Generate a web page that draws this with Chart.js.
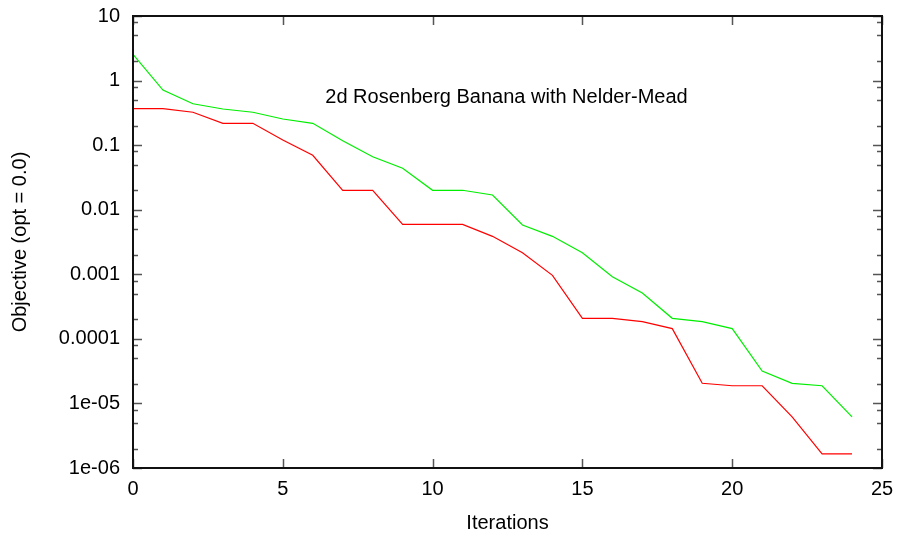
<!DOCTYPE html>
<html>
<head>
<meta charset="utf-8">
<script src="https://cdn.jsdelivr.net/npm/chart.js@4/dist/chart.umd.min.js"></script>
<style>
  html, body { margin: 0; padding: 0; background: #ffffff; }
  #wrap { width: 899px; height: 542px; }
</style>
</head>
<body>
<div id="wrap"><canvas id="c" width="899" height="542"></canvas></div>
<script>
// ---- data ----
const iterations = [0,1,2,3,4,5,6,7,8,9,10,11,12,13,14,15,16,17,18,19,20,21,22,23,24];
const greenObjective = [2.55, 0.714, 0.438, 0.363, 0.323, 0.254, 0.218, 0.117, 0.0662, 0.0438,
  0.0200, 0.0200, 0.0169, 0.0058, 0.00387, 0.00216, 0.000918, 0.000513, 0.000208, 0.000185,
  0.000144, 3.18e-5, 2.05e-5, 1.88e-5, 6.2e-6];
const redObjective = [0.367, 0.367, 0.323, 0.218, 0.218, 0.120, 0.0696, 0.0200, 0.0200, 0.00594,
  0.00594, 0.00594, 0.00387, 0.00216, 0.000964, 0.000208, 0.000208, 0.000185, 0.000144, 2.05e-5,
  1.88e-5, 1.88e-5, 6.2e-6, 1.65e-6, 1.65e-6];
const xTickValues = [0, 5, 10, 15, 20, 25];
const xTickLabels = ['0', '5', '10', '15', '20', '25'];
const yTickValues = [1e-6, 1e-5, 1e-4, 1e-3, 1e-2, 1e-1, 1, 10];
const yTickLabels = ['1e-06', '1e-05', '0.0001', '0.001', '0.01', '0.1', '1', '10'];
const yMinorMultipliers = [2, 5, 8];
const chartTitle = '2d Rosenberg Banana with Nelder-Mead';
const xAxisTitle = 'Iterations';
const yAxisTitle = 'Objective (opt = 0.0)';

const FONT_FAMILY = '"Liberation Sans", Arial, sans-serif';
const FONT_SIZE = 20;

const framePlugin = {
  id: 'frame',
  afterDatasetsDraw(chart) {
    const { ctx, chartArea: { left, right, top, bottom }, scales: { x, y } } = chart;
    ctx.save();
    ctx.strokeStyle = '#555555';
    ctx.lineWidth = 1.5;
    ctx.beginPath();
    xTickValues.forEach(v => {
      const px = Math.round(x.getPixelForValue(v)) + 0.5;
      ctx.moveTo(px, bottom); ctx.lineTo(px, bottom - 9);
      ctx.moveTo(px, top); ctx.lineTo(px, top + 9);
    });
    yTickValues.forEach((v, i) => {
      const py = Math.round(y.getPixelForValue(v)) + 0.5;
      ctx.moveTo(left, py); ctx.lineTo(left + 9, py);
      ctx.moveTo(right, py); ctx.lineTo(right - 9, py);
      if (i < yTickValues.length - 1) {
        yMinorMultipliers.forEach(m => {
          const pm = Math.round(y.getPixelForValue(v * m)) + 0.5;
          ctx.moveTo(left, pm); ctx.lineTo(left + 5, pm);
          ctx.moveTo(right, pm); ctx.lineTo(right - 5, pm);
        });
      }
    });
    ctx.stroke();
    ctx.strokeStyle = '#111111';
    ctx.lineWidth = 2;
    ctx.strokeRect(left, top, right - left, bottom - top);
    ctx.fillStyle = '#000000';
    ctx.font = FONT_SIZE + 'px ' + FONT_FAMILY;
    ctx.textAlign = 'center';
    ctx.textBaseline = 'middle';
    ctx.fillText(chartTitle, (left + right) / 2 - 1, top + 81);
    ctx.restore();
  }
};

new Chart(document.getElementById('c'), {
  type: 'line',
  data: {
    labels: iterations,
    datasets: [
      {
        label: 'green',
        data: iterations.map((it, i) => ({ x: it, y: greenObjective[i] })),
        borderColor: '#00ee00',
        borderWidth: 1.2,
        pointRadius: 0,
        tension: 0,
        fill: false
      },
      {
        label: 'red',
        data: iterations.map((it, i) => ({ x: it, y: redObjective[i] })),
        borderColor: '#ff0000',
        borderWidth: 1.2,
        pointRadius: 0,
        tension: 0,
        fill: false
      }
    ]
  },
  options: {
    responsive: false,
    animation: false,
    devicePixelRatio: 1,
    layout: { padding: { top: 16, right: 17, left: 0, bottom: 0 } },
    plugins: { legend: { display: false }, tooltip: { enabled: false }, title: { display: false } },
    scales: {
      x: {
        type: 'linear',
        min: 0,
        max: 25,
        grid: { display: false, drawTicks: false },
        border: { display: false },
        afterBuildTicks(scale) { scale.ticks = xTickValues.map(v => ({ value: v })); },
        afterFit(scale) { scale.height = 74; scale.paddingLeft = 0; scale.paddingRight = 0; },
        ticks: {
          autoSkip: false,
          maxRotation: 0,
          padding: 9,
          color: '#000000',
          font: { family: FONT_FAMILY, size: FONT_SIZE },
          callback(value) { const i = xTickValues.indexOf(value); return i >= 0 ? xTickLabels[i] : ''; }
        },
        title: {
          display: true,
          text: xAxisTitle,
          color: '#000000',
          font: { family: FONT_FAMILY, size: FONT_SIZE },
          padding: { top: 0, bottom: 7 }
        }
      },
      y: {
        type: 'logarithmic',
        min: 1e-6,
        max: 10,
        grid: { display: false, drawTicks: false },
        border: { display: false },
        afterBuildTicks(scale) { scale.ticks = yTickValues.map(v => ({ value: v })); },
        afterFit(scale) { scale.width = 133; scale.paddingTop = 0; scale.paddingBottom = 0; },
        ticks: {
          autoSkip: false,
          padding: 13,
          color: '#000000',
          font: { family: FONT_FAMILY, size: FONT_SIZE },
          callback(value) {
            const i = yTickValues.findIndex(v => Math.abs(Math.log10(v) - Math.log10(value)) < 1e-6);
            return i >= 0 ? yTickLabels[i] : '';
          }
        },
        title: {
          display: true,
          text: yAxisTitle,
          color: '#000000',
          font: { family: FONT_FAMILY, size: FONT_SIZE },
          padding: { top: 8, bottom: 0 }
        }
      }
    }
  },
  plugins: [framePlugin]
});
</script>
</body>
</html>
